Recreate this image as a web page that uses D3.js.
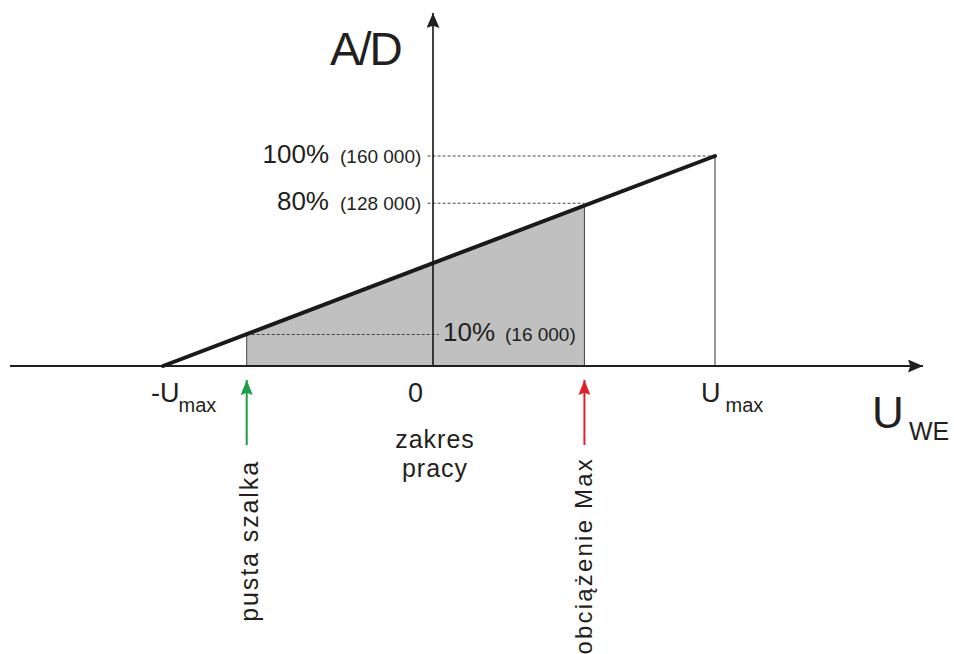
<!DOCTYPE html>
<html>
<head>
<meta charset="utf-8">
<script src="https://cdn.jsdelivr.net/npm/d3@7"></script>
<style>
  html, body { margin: 0; padding: 0; background: #fff; }
  svg { display: block; }
  svg text { font-family: "Liberation Sans", Arimo, Arial, Helvetica, sans-serif; }
</style>
</head>
<body>
<svg id="chart" width="954" height="654"></svg>
<script>
// ---- data ----
// transfer line: input voltage U (in units of Umax) -> A/D level (% of full scale)
const lineU = [-1, 0, 1];
const lineV = [0, 49, 100];
// working range (gray zone) boundaries in U
const zoneU = [-0.69, 0.537];
const zoneNames = ["pusta szalka", "obciążenie Max"];
const zoneColors = ["#17a040", "#e3202a"];
// reference levels (A/D)
const levelV = [100, 77.5, 15];
const levelLabels = ["100%", "80%", "10%"];
const levelCounts = ["(160 000)", "(128 000)", "(16 000)"];
// x tick labels
const tickU = [-1, 0, 1];
const tickMain = ["-U", "0", "U"];
const tickSub = ["max", "", "max"];
const yTitle = "A/D";
const xTitle = ["U", "WE"];
const zoneTitle = ["zakres", "pracy"];

// ---- scales ----
const x = d3.scaleLinear().domain([-1, 0, 1]).range([163, 433, 715]);
const y = d3.scaleLinear().domain([0, 100]).range([366, 156]);
const vAt = d3.scaleLinear().domain(lineU).range(lineV);

const svg = d3.select("#chart");
const ink = "#231f20";

// gray working zone
const zonePts = [zoneU[0], 0, zoneU[1]].map(u => [u, vAt(u)]);
const area = d3.area().x(d => x(d[0])).y0(y(0)).y1(d => y(d[1]));
svg.append("path").datum(zonePts).attr("d", area).attr("fill", "#c0c0c0");
zoneU.forEach(u => {
  svg.append("line").attr("x1", x(u)).attr("x2", x(u))
    .attr("y1", y(vAt(u))).attr("y2", y(0))
    .attr("stroke", "#444").attr("stroke-width", 1);
});
// Umax thin vertical
svg.append("line").attr("x1", x(1)).attr("x2", x(1))
  .attr("y1", y(100)).attr("y2", y(0)).attr("stroke", "#333").attr("stroke-width", 1);

// dashed reference levels
const dashExt = [[-0.02, 1], [-0.02, zoneU[1]], [zoneU[0], 0.02]];
levelV.forEach((v, i) => {
  svg.append("line").attr("x1", x(dashExt[i][0])).attr("x2", x(dashExt[i][1]))
    .attr("y1", y(v)).attr("y2", y(v))
    .attr("stroke", "#333").attr("stroke-width", 0.9).attr("stroke-dasharray", "3,2");
});

// axes
const defs = svg.append("defs");
function arrowMarker(id, color, w, h) {
  defs.append("marker").attr("id", id).attr("viewBox", `0 0 ${h} ${w}`)
    .attr("refX", h).attr("refY", w / 2).attr("markerWidth", h).attr("markerHeight", w)
    .attr("markerUnits", "userSpaceOnUse").attr("orient", "auto")
    .append("path").attr("d", `M0,0 L${h},${w/2} L0,${w} L${h*0.15},${w/2} Z`).attr("fill", color);
}
arrowMarker("axArrow", ink, 13, 15);
zoneColors.forEach((c, i) => arrowMarker("zArrow" + i, c, 12, 15));

svg.append("line").attr("x1", 10).attr("x2", 923).attr("y1", y(0)).attr("y2", y(0))
  .attr("stroke", ink).attr("stroke-width", 2.2).attr("marker-end", "url(#axArrow)");
svg.append("line").attr("x1", x(0)).attr("x2", x(0)).attr("y1", y(0)).attr("y2", 13)
  .attr("stroke", ink).attr("stroke-width", 1.7).attr("marker-end", "url(#axArrow)");

// transfer line
const line = d3.line().x(d => x(d[0])).y(d => y(d[1]));
svg.append("path").datum(lineU.map((u, i) => [u, lineV[i]])).attr("d", line)
  .attr("fill", "none").attr("stroke", "#1a1a1a").attr("stroke-width", 4).attr("stroke-linecap", "round");

// level labels
levelV.forEach((v, i) => {
  const right = i < 2;
  const yb = y(v) + 6.5;
  if (right) {
    svg.append("text").attr("x", x(0) - 104).attr("y", yb).attr("text-anchor", "end")
      .attr("font-size", 26).attr("fill", ink).text(levelLabels[i]);
    svg.append("text").attr("x", x(0) - 93).attr("y", yb).attr("font-size", 19)
      .attr("fill", ink).text(levelCounts[i]);
  } else {
    svg.append("text").attr("x", x(0) + 10).attr("y", yb).attr("font-size", 26)
      .attr("fill", ink).text(levelLabels[i]);
    svg.append("text").attr("x", x(0) + 72).attr("y", yb).attr("font-size", 19)
      .attr("fill", ink).text(levelCounts[i]);
  }
});

// x tick labels
const tickOff = [-12, -25, -14];
tickU.forEach((u, i) => {
  const t = svg.append("text").attr("x", x(u) + tickOff[i]).attr("y", 402)
    .attr("font-size", 27).attr("fill", ink).text(tickMain[i]);
  if (tickSub[i]) {
    const w = t.node().getComputedTextLength();
    svg.append("text").attr("x", x(u) + tickOff[i] + w + (i === 0 ? -1 : 5)).attr("y", 412)
      .attr("font-size", 20).attr("fill", ink).text(tickSub[i]);
  }
});

// axis titles
svg.append("text").attr("x", 330).attr("y", 65).attr("font-size", 46)
  .attr("letter-spacing", -2).attr("fill", ink).text(yTitle);
svg.append("text").attr("x", 872).attr("y", 428).attr("font-size", 44).attr("fill", ink).text(xTitle[0]);
svg.append("text").attr("x", 909).attr("y", 440).attr("font-size", 25).attr("fill", ink).text(xTitle[1]);

// working range title
zoneTitle.forEach((s, i) => {
  svg.append("text").attr("x", x(0) + 2).attr("y", 448 + i * 28.5).attr("text-anchor", "middle")
    .attr("font-size", 25).attr("letter-spacing", 1).attr("fill", ink).text(s);
});

// zone boundary arrows + rotated labels
zoneU.forEach((u, i) => {
  svg.append("line").attr("x1", x(u)).attr("x2", x(u)).attr("y1", 445).attr("y2", 380)
    .attr("stroke", zoneColors[i]).attr("stroke-width", 2).attr("marker-end", `url(#zArrow${i})`);
  const bx = x(u) + (i === 0 ? 11 : 8);
  const top = i === 0 ? 460 : 457;
  svg.append("text").attr("transform", `translate(${bx},${top}) rotate(-90)`)
    .attr("text-anchor", "end").attr("font-size", i === 0 ? 25 : 24)
    .attr("letter-spacing", i === 0 ? 1.9 : 2.2).attr("fill", ink).text(zoneNames[i]);
});
</script>
</body>
</html>
